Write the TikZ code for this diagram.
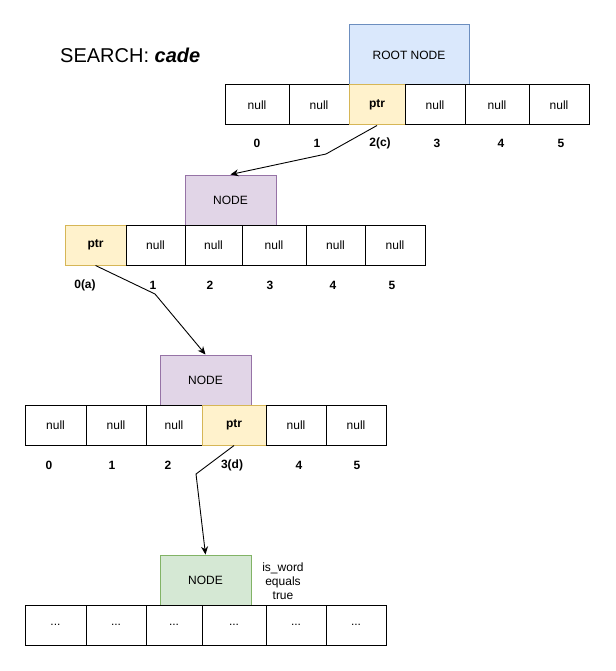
\documentclass[tikz,border=0pt]{standalone}
\usepackage{fontspec}
\setmainfont{Liberation Sans}
\usetikzlibrary{positioning}
\usetikzlibrary{calc}
\usetikzlibrary{arrows.meta}
\definecolor{rootfill}{HTML}{DAE8FC}
\definecolor{rootline}{HTML}{6C8EBF}
\definecolor{nodefill}{HTML}{E1D5E7}
\definecolor{nodeline}{HTML}{9673A6}
\definecolor{ptrfill}{HTML}{FFF2CC}
\definecolor{ptrline}{HTML}{D6B656}
\definecolor{wordfill}{HTML}{D5E8D4}
\definecolor{wordline}{HTML}{82B366}
\newcommand{\txt}{\fontsize{12}{14}\selectfont}

\tikzset{
  cell/.style={draw, line width=1pt, minimum height=40, inner sep=0pt, font=\txt},
  ptrcell/.style={cell, fill=ptrfill, draw=ptrline, font=\txt\bfseries},
  trienode/.style={draw=nodeline, fill=nodefill, line width=1pt, minimum width=91, minimum height=50, inner sep=0pt, font=\txt},
  idx/.style={inner sep=0pt, font=\txt\bfseries},
  link/.style={line width=0.9pt, -{Stealth[length=8pt,width=7pt]}}
}

\begin{document}
\begin{tikzpicture}[x=1pt,y=-1pt]
    \useasboundingbox (0,0) rectangle (615,671);
    \node[inner sep=0pt, anchor=west, font=\fontsize{20}{24}\selectfont] (title) at (60,55) {SEARCH: \textbf{\textit{cade}}};

    % root level
    \node[trienode, draw=rootline, fill=rootfill, minimum width=120, minimum height=60] (R) at (409,55) {ROOT NODE};
    \path (257,105) node[cell, minimum width=64] (A0) {null}
     ++ (62,0) node[cell, minimum width=60] (A1) {null}
     ++ (58,0) node[ptrcell, minimum width=56] (A2) {ptr}
     ++ (58,0) node[cell, minimum width=60] (A3) {null}
     ++ (62,0) node[cell, minimum width=64] (A4) {null}
     ++ (62,0) node[cell, minimum width=60] (A5) {null};
    \path (257,143) node[idx] (a0) {0}
     ++ (60,0) node[idx] (a1) {1}
     ++ (63,0) node[idx] (a2) {2(c)}
     ++ (57,0) node[idx] (a3) {3}
     ++ (64,0) node[idx] (a4) {4}
     ++ (60,0) node[idx] (a5) {5};

    % level 1
    \node[trienode] (N1) at (230.5,200) {NODE};
    \path (95.5,245) node[ptrcell, minimum width=61] (B0) {ptr}
     ++ (60,0) node[cell, minimum width=59] (B1) {null}
     ++ (58,0) node[cell, minimum width=57] (B2) {null}
     ++ (60.5,0) node[cell, minimum width=64] (B3) {null}
     ++ (61.5,0) node[cell, minimum width=59] (B4) {null}
     ++ (59.5,0) node[cell, minimum width=60] (B5) {null};
    \path (85,285) node[idx] (b0) {0(a)}
     ++ (68,0) node[idx] (b1) {1}
     ++ (57,0) node[idx] (b2) {2}
     ++ (60,0) node[idx] (b3) {3}
     ++ (63,0) node[idx] (b4) {4}
     ++ (59,0) node[idx] (b5) {5};

    % level 2
    \node[trienode] (N2) at (205.5,380) {NODE};
    \path (55.5,425) node[cell, minimum width=61] (C0) {null}
     ++ (60.5,0) node[cell, minimum width=60] (C1) {null}
     ++ (58,0) node[cell, minimum width=56] (C2) {null}
     ++ (60,0) node[ptrcell, minimum width=64] (C3) {ptr}
     ++ (62,0) node[cell, minimum width=60] (C4) {null}
     ++ (60,0) node[cell, minimum width=60] (C5) {null};
    \path (49,465) node[idx] (c0) {0}
     ++ (63,0) node[idx] (c1) {1}
     ++ (56,0) node[idx] (c2) {2}
     ++ (64,0) node[idx] (c3) {3(d)}
     ++ (67,0) node[idx] (c4) {4}
     ++ (58,0) node[idx] (c5) {5};

    % level 3
    \node[trienode, draw=wordline, fill=wordfill] (N3) at (205.5,580) {NODE};
    \node[inner sep=0pt, align=center, font=\txt] (W) at (283,581) {is\_word\\equals\\true};
    \path (55.5,625) node[cell, minimum width=61] (D0) {...}
     ++ (60.5,0) node[cell, minimum width=60] (D1) {...}
     ++ (58,0) node[cell, minimum width=56] (D2) {...}
     ++ (60,0) node[cell, minimum width=64] (D3) {...}
     ++ (62,0) node[cell, minimum width=60] (D4) {...}
     ++ (60,0) node[cell, minimum width=60] (D5) {...};

    % pointers
    \coordinate (k1) at (326,154);
    \coordinate (k2) at (155,294);
    \coordinate (k3) at (196,474);
    \draw[link] (A2.south) -- (k1) -- (N1.north);
    \draw[link] (B0.south) -- (k2) -- (N2.north);
    \draw[link] (C3.south) -- (k3) -- (N3.north);
\end{tikzpicture}
\end{document}
